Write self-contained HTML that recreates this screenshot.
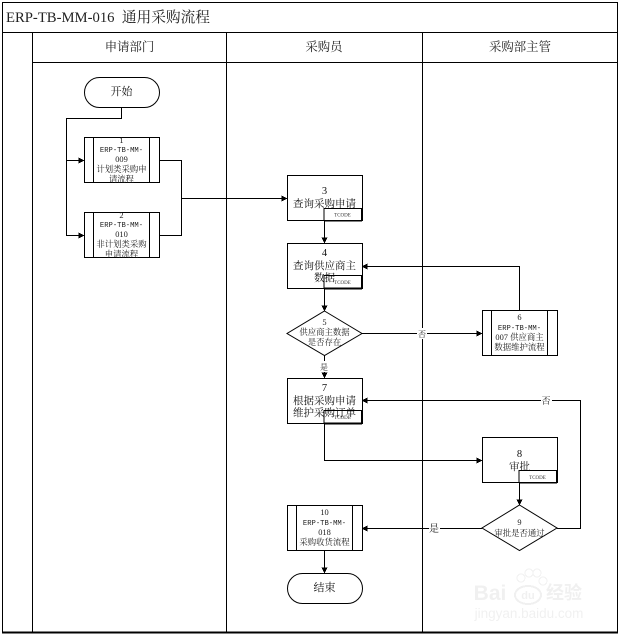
<!DOCTYPE html>
<html><head><meta charset="utf-8"><style>
html,body{margin:0;padding:0;background:#fff;width:619px;height:634px;overflow:hidden}
svg{display:block}
text{font-family:"Liberation Serif","Noto Serif CJK SC",serif;fill:#111;text-anchor:middle}
.s{font-size:8.4px;fill:#222}
.e{font-family:"Liberation Mono","Noto Serif CJK SC",monospace;font-size:7.2px;fill:#222}
.m{font-size:10.5px;fill:#111}
.h{font-size:12.4px;fill:#222}
.t{font-size:5px;fill:#333}
.n{fill:#fff;stroke:#000;stroke-width:1}
.l{fill:none;stroke:#000;stroke-width:1}
</style></head><body>
<svg width="619" height="634" viewBox="0 0 619 634" xmlns="http://www.w3.org/2000/svg" shape-rendering="crispEdges">
<defs><marker id="a" markerWidth="6" markerHeight="6" refX="5.5" refY="3" orient="auto" markerUnits="userSpaceOnUse"><path d="M0,0 L6,3 L0,6 Z" fill="#000"/></marker></defs>

<!-- watermark -->
<g opacity="0.1">
<text x="490" y="600" style="font-family:'Liberation Sans',sans-serif;font-size:21px;font-weight:bold;fill:#777">Bai</text>
<ellipse cx="528" cy="595" rx="13" ry="9" fill="none" stroke="#777" stroke-width="2"/>
<text x="528" y="599" style="font-family:'Liberation Sans',sans-serif;font-size:11px;font-weight:bold;fill:#777">du</text>
<circle cx="521" cy="578" r="4" fill="none" stroke="#777"/><circle cx="529" cy="573" r="4" fill="none" stroke="#777"/><circle cx="537" cy="573" r="4" fill="none" stroke="#777"/><circle cx="543" cy="581" r="4" fill="none" stroke="#777"/>
<text x="564" y="599" style="font-family:'Liberation Sans','Noto Sans CJK SC',sans-serif;font-size:18px;font-weight:bold;fill:#777">经验</text>
<text x="529" y="618" style="font-family:'Liberation Sans',sans-serif;font-size:13.5px;fill:#777">jingyan.baidu.com</text>
</g>

<!-- frame -->
<rect x="2.5" y="2.5" width="615" height="630" fill="none" stroke="#000"/>
<path class="l" d="M2 32.5H618M32.5 32V632M226.5 32V632M422.5 32V632M32 62.5H618"/>
<path d="M2 632.5H618" stroke="#000" stroke-width="2"/>
<text x="6" y="22" style="text-anchor:start;font-size:14.7px;fill:#222">ERP-TB-MM-016&#160;&#160;通用采购流程</text>
<text x="129.5" y="51" class="h">申请部门</text>
<text x="324" y="51" class="h">采购员</text>
<text x="520" y="51" class="h">采购部主管</text>

<!-- connectors -->
<path class="l" d="M121.5 107V118.5H66.5V160.5H84" marker-end="url(#a)"/>
<path class="l" d="M66.5 160V235.5H84" marker-end="url(#a)"/>
<path class="l" d="M159 160.5H181.5V235.5H159"/>
<path class="l" d="M181 198.5H287" marker-end="url(#a)"/>
<path class="l" d="M324.5 220V243" marker-end="url(#a)"/>
<path class="l" d="M324.5 288V311" marker-end="url(#a)"/>
<path class="l" d="M324.5 355V378" marker-end="url(#a)"/>
<path class="l" d="M362 333.5H482" marker-end="url(#a)"/>
<path class="l" d="M519.5 310V266.5H362" marker-end="url(#a)"/>
<path class="l" d="M324.5 423V460.5H482" marker-end="url(#a)"/>
<path class="l" d="M519.5 482V505" marker-end="url(#a)"/>
<path class="l" d="M557 528.5H580.5V400.5H362" marker-end="url(#a)"/>
<path class="l" d="M482 528.5H362" marker-end="url(#a)"/>
<path class="l" d="M324.5 550V573" marker-end="url(#a)"/>

<!-- connector labels -->
<rect x="417" y="328" width="10" height="11" fill="#fff"/><text x="422" y="337" class="s" style="font-size:8px">否</text>
<rect x="319" y="361" width="11" height="11" fill="#fff"/><text x="324" y="370" class="s" style="font-size:8px">是</text>
<rect x="541" y="395" width="11" height="11" fill="#fff"/><text x="546" y="404" class="s" style="font-size:9px">否</text>
<rect x="429" y="523" width="11" height="11" fill="#fff"/><text x="434" y="532" class="s" style="font-size:10px">是</text>

<!-- start -->
<rect class="n" x="84.5" y="77.5" width="75" height="30" rx="15" ry="15" shape-rendering="auto"/>
<text x="121.5" y="95" class="h" style="font-size:11px;fill:#111">开始</text>

<!-- 1 -->
<rect class="n" x="84.5" y="137.5" width="75" height="45"/><path class="l" d="M93.5 137V182M149.5 137V182"/>
<text x="121.5" y="143" class="s">1</text><text x="121.5" y="152" class="e">ERP-TB-MM-</text><text x="121.5" y="162" class="s">009</text><text x="121.5" y="172" class="s">计划类采购申</text><text x="121.5" y="182" class="s">请流程</text>

<!-- 2 -->
<rect class="n" x="84.5" y="212.5" width="75" height="45"/><path class="l" d="M93.5 212V257M149.5 212V257"/>
<text x="121.5" y="218" class="s">2</text><text x="121.5" y="227" class="e">ERP-TB-MM-</text><text x="121.5" y="237" class="s">010</text><text x="121.5" y="247" class="s">非计划类采购</text><text x="121.5" y="257" class="s">申请流程</text>

<!-- 3 -->
<rect class="n" x="287.5" y="175.5" width="75" height="45"/>
<text x="324.5" y="194" class="m">3</text><text x="324.5" y="207" class="m">查询采购申请</text>
<rect x="324" y="208.5" width="37.5" height="12" fill="#fff" stroke="#000"/><path d="M361.5 208V221M324 220.5H362" stroke="#000" stroke-width="1.5"/>
<text x="342.5" y="216.5" class="t">TCODE</text>

<!-- 4 -->
<rect class="n" x="287.5" y="243.5" width="75" height="45"/>
<text x="324.5" y="256" class="m">4</text><text x="324.5" y="269" class="m">查询供应商主</text><text x="324.5" y="281" class="m">数据</text>
<rect x="324" y="275.5" width="37.5" height="12.5" fill="none" stroke="#000"/><path d="M361.5 275V289M324 288.5H362" stroke="#000" stroke-width="1.5"/>
<text x="342.5" y="284" class="t">TCODE</text>

<!-- 5 -->
<path class="n" d="M324.5 311L362 333.5L324.5 355.5L287 333.5Z" shape-rendering="auto"/>
<text x="324.5" y="325" class="s">5</text><text x="324.5" y="335" class="s">供应商主数据</text><text x="324.5" y="345" class="s">是否存在</text>

<!-- 6 -->
<rect class="n" x="482.5" y="310.5" width="75" height="45"/><path class="l" d="M491.5 310V355M547.5 310V355"/>
<text x="519.5" y="320" class="s">6</text><text x="519.5" y="330" class="e">ERP-TB-MM-</text><text x="519.5" y="340" class="s">007 供应商主</text><text x="519.5" y="350" class="s">数据维护流程</text>

<!-- 7 -->
<rect class="n" x="287.5" y="378.5" width="75" height="45"/>
<text x="324.5" y="391" class="m">7</text><text x="324.5" y="404" class="m">根据采购申请</text><text x="324.5" y="416" class="m">维护采购订单</text>
<rect x="324" y="410.5" width="37.5" height="12.5" fill="none" stroke="#000"/><path d="M361.5 410V424M324 423.5H362" stroke="#000" stroke-width="1.5"/>
<text x="342.5" y="419" class="t">TCODE</text>

<!-- 8 -->
<rect class="n" x="482.5" y="437.5" width="75" height="45"/>
<text x="519.5" y="457" class="m">8</text><text x="519.5" y="470" class="m">审批</text>
<rect x="519" y="470.5" width="37.5" height="12" fill="#fff" stroke="#000"/><path d="M556.5 470V483M519 482.5H557" stroke="#000" stroke-width="1.5"/>
<text x="537.5" y="479" class="t">TCODE</text>

<!-- 9 -->
<path class="n" d="M519.5 505L557 528L519.5 550.5L482 528Z" shape-rendering="auto"/>
<text x="519.5" y="525" class="s">9</text><text x="519.5" y="536" class="s">审批是否通过</text>

<!-- 10 -->
<rect class="n" x="287.5" y="505.5" width="75" height="45"/><path class="l" d="M296.5 505V550M352.5 505V550"/>
<text x="324.5" y="515" class="s">10</text><text x="324.5" y="525" class="e">ERP-TB-MM-</text><text x="324.5" y="535" class="s">018</text><text x="324.5" y="545" class="s">采购收货流程</text>

<!-- end -->
<rect class="n" x="287.5" y="573.5" width="75" height="30" rx="15" ry="15" shape-rendering="auto"/>
<text x="324.5" y="591" class="h" style="font-size:11px;fill:#111">结束</text>
</svg>
</body></html>
